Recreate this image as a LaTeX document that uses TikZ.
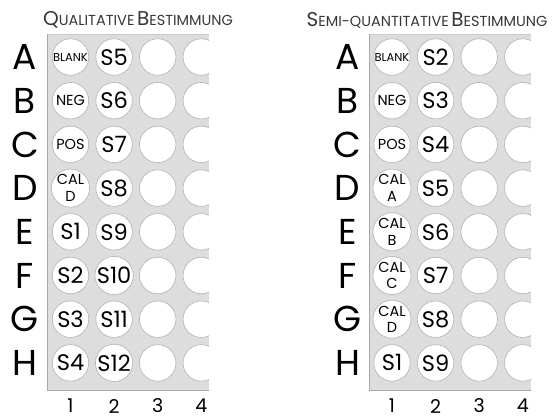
\documentclass[tikz,border=0pt]{standalone}
\usepackage{fontspec}
\setmainfont{Poppins}
\usepackage{tikz}
\definecolor{platebg}{RGB}{221,221,221}
\definecolor{plateedge}{RGB}{168,168,168}
\definecolor{welledge}{RGB}{178,178,178}
\definecolor{titlegray}{RGB}{55,55,55}
\usetikzlibrary{positioning}
\newcommand\capword[2]{{\fontsize{20}{20}\selectfont #1}{\fontsize{14.5}{14.5}\selectfont #2}}

\begin{document}
\begin{tikzpicture}[x=1pt, y=-1pt,
    well/.style={circle, draw=welledge, fill=white, line width=0.6pt,
                 minimum size=36.5pt, inner sep=0pt, align=center,
                 font=\fontsize{22.5}{22.5}\selectfont},
    wsm/.style={font=\fontsize{11.5}{11.5}\selectfont},
    wmd/.style={font=\fontsize{14.5}{16.5}\selectfont},
    wbig/.style={},
    rowlabel/.style={font=\fontsize{36}{36}\selectfont, inner sep=0pt},
    collabel/.style={font=\fontsize{19}{19}\selectfont, inner sep=0pt},
    title/.style={text=titlegray, inner sep=0pt}
]
    \useasboundingbox (0,0) rectangle (553,418);

    % titles
    \node[title] (qtitle) at (138,20)
        {\capword{Q}{UALITATIVE} \capword{B}{ESTIMMUNG}};
    \node[title] (stitle) at (427,20)
        {\capword{S}{EMI-QUANTITATIVE} \capword{B}{ESTIMMUNG}};

    % plates
    \fill[platebg] (47,34) rectangle (209,390);
    \draw[plateedge!60] (47,34) -- (209,34);
    \draw[plateedge] (47,34) -- (47,390) -- (209,390);
    \fill[platebg] (369,34) rectangle (531,390);
    \draw[plateedge!60] (369,34) -- (531,34);
    \draw[plateedge] (369,34) -- (369,390) -- (531,390);

    % row and column labels
    \foreach \l [count=\r from 0] in {A,B,C,D,E,F,G,H} {
        \node[rowlabel] (qrow\l) at (25, 57+43.7*\r) {\l};
        \node[rowlabel] (srow\l) at (347.5, 57+43.7*\r) {\l};
    }
    \foreach \c in {1,...,4} {
        \node[collabel] (qcol\c) at (70.5+43.6*\c-43.6, 406) {\c};
        \node[collabel] (scol\c) at (392+43.6*\c-43.6, 406) {\c};
    }

    % qualitative plate
    \begin{scope}
        \clip (47,34) rectangle (209,390);
        \foreach \l/\st/\ta/\tb [count=\r from 0] in
            {A/wsm/BLANK/S5, B/wmd/NEG/S6, C/wmd/POS/S7, D/wmd/CAL\\D/S8,
             E/wbig/S1/S9, F/wbig/S2/S10, G/wbig/S3/S11, H/wbig/S4/S12} {
            \node[well, \st] (q\l1) at (70.5, 57+43.7*\r) {\ta};
            \node[well] (q\l2) at (114.1, 57+43.7*\r) {\tb};
            \node[well] (q\l3) at (157.7, 57+43.7*\r) {};
            \node[well] (q\l4) at (201.3, 57+43.7*\r) {};
        }
    \end{scope}

    % semi-quantitative plate
    \begin{scope}
        \clip (369,34) rectangle (531,390);
        \foreach \l/\st/\ta/\tb [count=\r from 0] in
            {A/wsm/BLANK/S2, B/wmd/NEG/S3, C/wmd/POS/S4, D/wmd/CAL\\A/S5,
             E/wmd/CAL\\B/S6, F/wmd/CAL\\C/S7, G/wmd/CAL\\D/S8, H/wbig/S1/S9} {
            \node[well, \st] (s\l1) at (392, 57+43.7*\r) {\ta};
            \node[well] (s\l2) at (435.6, 57+43.7*\r) {\tb};
            \node[well] (s\l3) at (479.2, 57+43.7*\r) {};
            \node[well] (s\l4) at (522.8, 57+43.7*\r) {};
        }
    \end{scope}
\end{tikzpicture}
\end{document}
